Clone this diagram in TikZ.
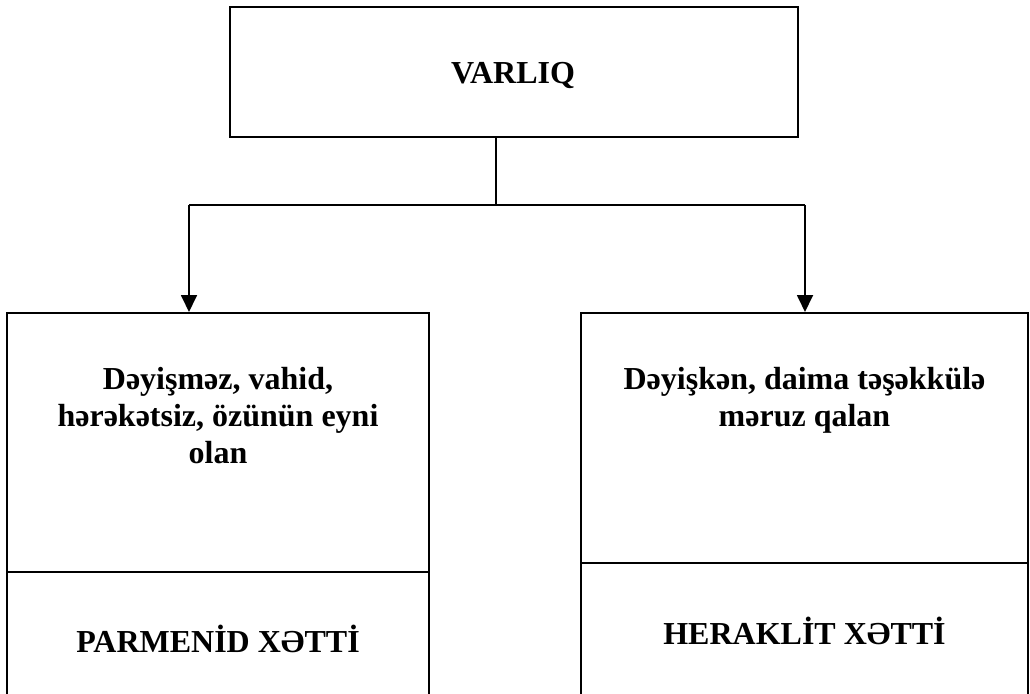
\documentclass[tikz,border=0pt]{standalone}
\usepackage{fontspec}
\setmainfont{Liberation Serif}
\usetikzlibrary{arrows.meta}
\begin{document}
\begin{tikzpicture}[x=1pt,y=-1pt,
  box/.style={draw=black,line width=2pt,rectangle,inner sep=0pt},
  lbl/.style={font=\fontsize{32}{37}\selectfont\bfseries,align=center,inner sep=0pt},
  conn/.style={draw=black,line width=1.8pt},
  arr/.style={conn,-{Triangle[length=17pt,width=16pt]}}]
\useasboundingbox (0,0) rectangle (1030,693);
\clip (0,0) rectangle (1030,693);
\fill[white] (0,0) rectangle (1030,693);
% boxes
\node[box,minimum width=568pt,minimum height=130pt] (top) at (514,72) {};
\node[box,minimum width=422pt,minimum height=259pt] (lbox) at (218,442.5) {};
\node[box,minimum width=422pt,minimum height=150pt] (lbot) at (218,647) {};
\node[box,minimum width=447pt,minimum height=250pt] (rbox) at (804.5,438) {};
\node[box,minimum width=447pt,minimum height=160pt] (rbot) at (804.5,643) {};
% texts
\node[lbl] (tvar) at (513,75) {VARLIQ};
\node[lbl,anchor=north] (tl) at (218,367) {Dəyişməz, vahid,\\hərəkətsiz, özünün eyni\\olan};
\node[lbl,anchor=north] (tr) at (804.5,367) {Dəyişkən, daima təşəkkülə\\məruz qalan};
\node[lbl] (tpar) at (218,639) {PARMENİD XƏTTİ};
\node[lbl] (ther) at (804.5,631) {HERAKLİT XƏTTİ};
% connectors
\coordinate (j) at (496,205);
\coordinate (lt) at (189,205);
\coordinate (rt) at (805,205);
\draw[conn] (top.south -| j) -- (j);
\draw[conn] (lt) -- (rt);
\draw[arr] (lt) -- (lt |- lbox.north);
\draw[arr] (rt) -- (rt |- rbox.north);
\end{tikzpicture}
\end{document}
